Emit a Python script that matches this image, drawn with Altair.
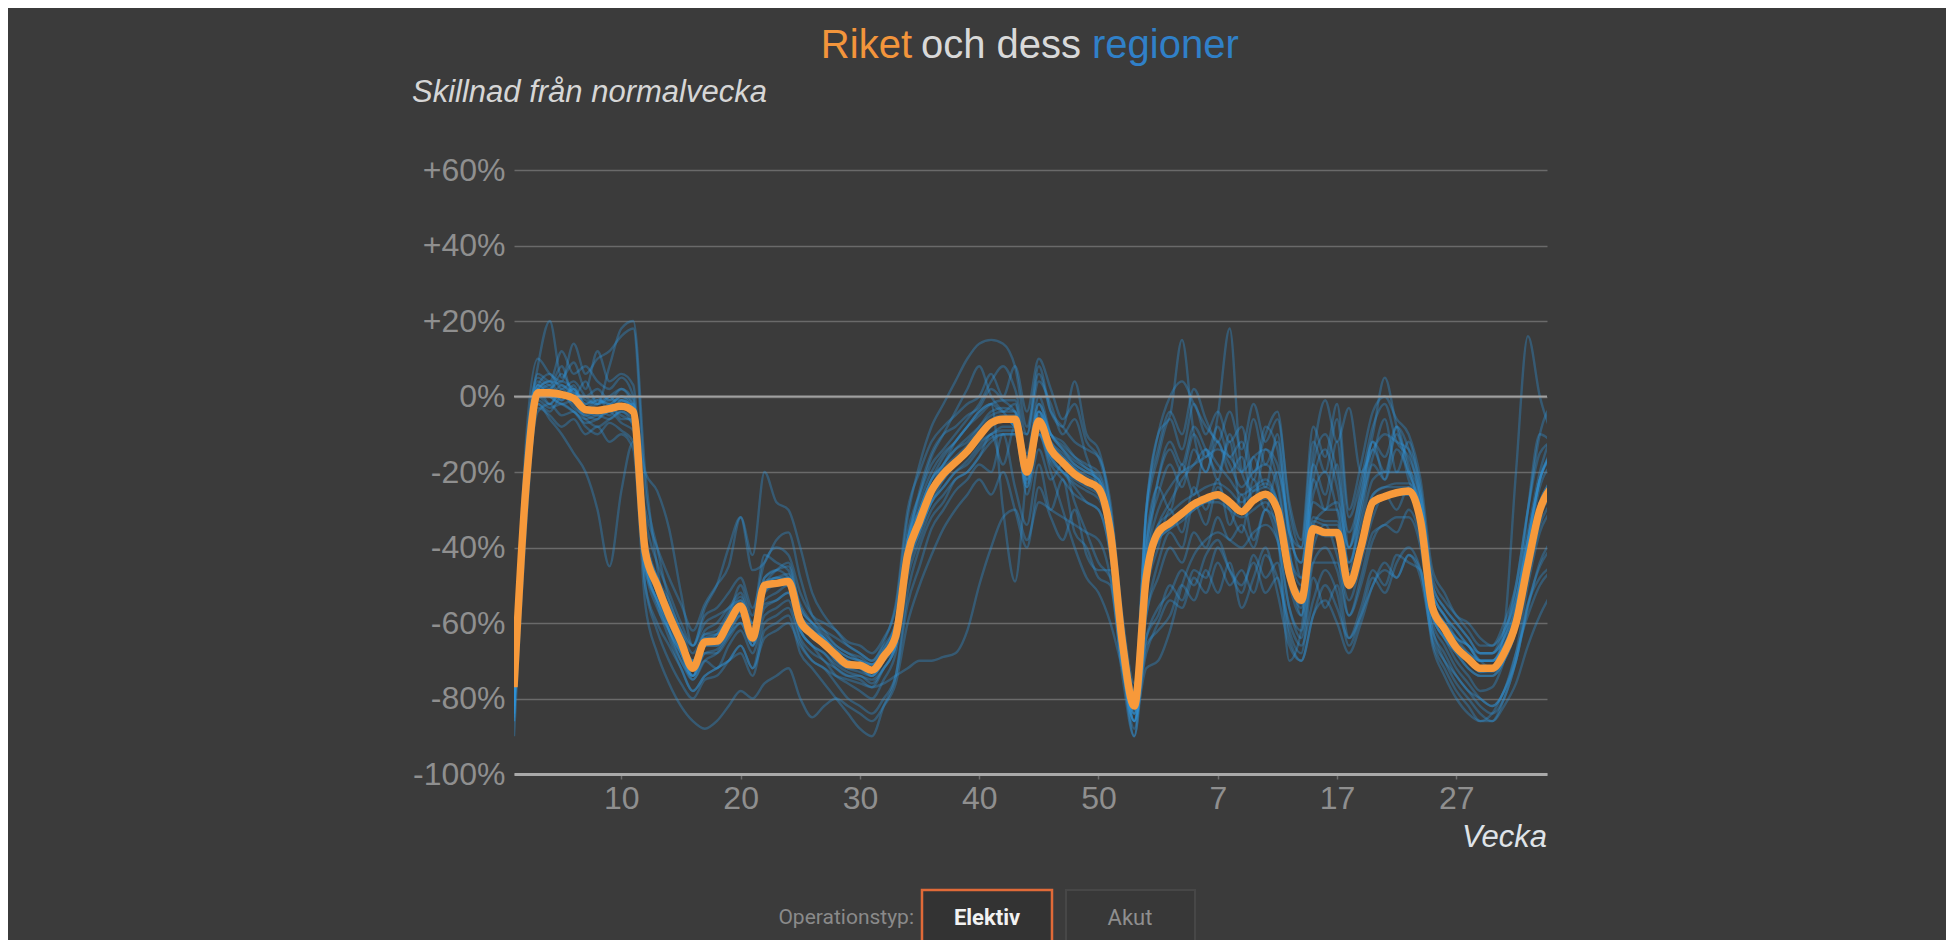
import altair as alt
import pandas as pd

# week index: 0 = 2020 v1 ... 52 = 2020 v53, 53 = 2021 v1 ...
week_idx = list(range(88))
tick_idx = [9, 19, 29, 39, 49, 59, 69, 79]
y_ticks = [-100, -80, -60, -40, -20, 0, 20, 40, 60]

riket = [-77, -24, 1, 1, 0.5, -0.5, -3.5, -3.7, -3.2, -2.6,
         -4, -41, -50, -58, -65, -72, -65, -64.8, -60, -55.5,
         -64, -50, -49.5, -49, -59.5, -63, -65.6, -68.5, -71, -71.2,
         -72.5, -68.8, -63.5, -42, -33, -25, -20.5, -17.5, -14.5, -10.5,
         -7, -6, -6, -20, -6.5, -14, -17.5, -20.6, -22.5, -24.3,
         -36, -65, -82, -48, -36, -33.5, -31, -28.5, -27, -26,
         -28, -30.5, -27.5, -25.9, -30, -47, -54, -35, -36, -36,
         -50, -40, -28, -26.5, -25.5, -25, -33, -56, -61.5, -66.5,
         -69.5, -72, -72, -68, -60, -44.4, -30, -24]

regions = {
    "G1": [-82, -15, 8, 20, 5, 9, 2, 12, 4, 6, 3, -38, -52, -60, -68, -75, -70, -68, -63, -58,
           -66, -52, -48, -50, -62, -66, -70, -72, -74, -75, -77, -72, -66, -40, -25, -15, -10, -8, -5, -3,
           2, -1, -4, -15, 0, -10, -14, -18, -20, -22, -34, -66, -86, -45, -22, -12, -18, -8, -14, -20,
           -12, -30, -16, -24, -10, -40, -58, -22, -30, -18, -46, -28, -12, -22, -8, -20, -30, -58, -64, -70,
           -74, -78, -77, -70, -58, -40, -22, -15],
    "G2": [-85, -20, 5, 3, 8, 0, 4, -2, 8, 18, 20, -20, -45, -62, -70, -74, -66, -63, -58, -50,
           -58, -42, -44, -46, -55, -60, -64, -68, -70, -72, -74, -70, -62, -38, -30, -22, -18, -12, -8, -4,
           -2, -4, -2, -18, -2, -10, -12, -16, -19, -22, -38, -70, -88, -58, -44, -36, -40, -28, -34, -24,
           -30, -36, -22, -30, -20, -34, -48, -18, -26, -12, -40, -30, -14, -20, -10, -22, -30, -52, -58, -62,
           -66, -70, -72, -68, -58, -30, -10, -12],
    "G3": [-90, -35, -2, -6, -10, -15, -20, -30, -45, -25, -12, -50, -62, -70, -76, -80, -75, -74, -70, -66,
           -72, -60, -58, -56, -65, -70, -72, -76, -80, -82, -84, -80, -74, -55, -45, -35, -30, -25, -22, -18,
           -20, -10, -24, -34, -18, -30, -22, -36, -40, -48, -50, -74, -90, -66, -62, -58, -50, -54, -46, -52,
           -44, -56, -48, -40, -52, -66, -70, -58, -50, -56, -64, -58, -48, -52, -44, -40, -46, -62, -70, -76,
           -80, -84, -86, -80, -70, -55, -45, -40],
    "G4": [-78, -22, 3, 0, -2, -4, -6, -5, -6, -4, -8, -30, -40, -48, -55, -62, -55, -50, -45, -32,
           -42, -20, -28, -30, -40, -52, -58, -62, -66, -68, -70, -65, -55, -30, -20, -12, -8, -5, -2, 0,
           6, 0, 8, -4, 10, 2, -6, -2, -12, -16, -30, -60, -78, -32, -16, -6, -14, -2, -10, -4,
           -12, -8, -20, -10, -4, -30, -40, -12, -20, -6, -32, -22, -8, -2, -12, -16, -26, -48, -54, -58,
           -62, -66, -66, -62, -52, -36, -20, -10],
    "G5": [-86, -28, -3, -5, -8, -6, -10, -8, -12, -10, -14, -55, -68, -76, -82, -86, -88, -86, -82, -78,
           -80, -76, -74, -72, -80, -85, -82, -80, -82, -84, -86, -82, -76, -60, -50, -42, -35, -30, -26, -22,
           -26, -20, -30, -40, -24, -32, -38, -30, -42, -46, -46, -70, -86, -64, -56, -52, -46, -50, -42, -38,
           -46, -52, -42, -48, -44, -62, -68, -48, -56, -50, -64, -56, -46, -50, -42, -44, -46, -65, -72, -78,
           -82, -86, -84, -78, -70, -55, -48, -45],
    "G6": [-80, -26, 0, 2, 4, 2, -2, 0, -4, -1, -5, -42, -55, -64, -72, -78, -74, -72, -70, -66,
           -72, -64, -62, -60, -66, -70, -72, -74, -75, -76, -77, -76, -74, -72, -70, -70, -69, -68, -62, -50,
           -40, -32, -30, -38, -28, -30, -32, -34, -36, -38, -48, -72, -84, -68, -60, -54, -56, -48, -52, -44,
           -50, -46, -52, -42, -48, -60, -66, -54, -46, -52, -66, -58, -50, -44, -48, -42, -48, -64, -70, -74,
           -78, -80, -82, -78, -68, -58, -50, -46],
    "G7": [-76, -18, 6, 4, 12, 6, 8, 4, 2, 5, 0, -32, -44, -52, -60, -66, -58, -56, -52, -48,
           -56, -44, -40, -42, -52, -58, -60, -62, -65, -66, -68, -64, -56, -32, -18, -8, -2, 4, 10, 14,
           15, 14, 8, -8, 6, -4, -8, -12, -14, -16, -28, -58, -76, -30, -14, -4, -10, 2, -6, -12,
           -4, -14, -2, -12, -6, -28, -38, -8, -16, -2, -30, -18, -4, 0, -6, -10, -22, -46, -52, -58,
           -60, -64, -66, -60, -50, -30, -15, -12],
    "G8": [-82, -24, 2, -2, 1, -3, -5, -6, -2, -6, -6, -44, -54, -60, -67, -74, -66, -66, -62, -58,
           -64, -54, -52, -50, -60, -64, -66, -70, -72, -73, -74, -70, -66, -44, -35, -28, -22, -18, -15, -12,
           -10, -8, -8, -22, -8, -16, -20, -22, -24, -26, -38, -66, -82, -30, -10, -5, 15, -10, -20, -5,
           18, -20, -25, -24, -28, -48, -56, -34, -36, -36, -50, -40, -28, -26, -26, -26, -34, -58, -64, -68,
           -72, -74, -74, -70, -62, -46, -30, -26],
    "G9": [-84, -22, 1, 3, -1, 2, -4, -3, -5, -1, -3, -40, -52, -58, -66, -72, -66, -66, -61, -57,
           -65, -52, -50, -50, -60, -64, -66, -70, -72, -72, -74, -70, -64, -42, -34, -26, -22, -18, -15, -11,
           -8, -6, -8, -22, -8, -14, -18, -21, -23, -25, -37, -66, -83, -52, -40, -30, -36, -24, -30, -22,
           -34, -26, -38, -30, -34, -50, -58, -40, -34, -42, -54, -44, -32, -26, -30, -24, -34, -57, -62, -67,
           -70, -73, -72, -62, -20, 16, 0, -10],
    "G10": [-83, -30, -4, -2, -5, -4, -8, -10, -7, -9, -12, -45, -56, -62, -70, -75, -70, -72, -66, -62,
            -68, -58, -56, -54, -64, -68, -70, -74, -76, -78, -80, -75, -68, -48, -38, -30, -26, -22, -20, -16,
            -10, -18, -8, -26, -14, -22, -18, -28, -36, -44, -48, -72, -86, -64, -58, -50, -54, -46, -48, -40,
            -46, -50, -44, -52, -48, -64, -70, -58, -54, -60, -68, -60, -50, -46, -48, -42, -46, -66, -74, -80,
            -84, -86, -86, -82, -76, -66, -58, -52],
    "G11": [-79, -20, 4, 2, 6, 1, 0, 2, -1, 2, -1, -36, -48, -56, -64, -70, -63, -62, -57, -53,
            -61, -48, -46, -45, -56, -60, -63, -66, -68, -69, -71, -67, -60, -38, -28, -20, -15, -12, -8, -5,
            -2, -1, -1, -16, -2, -10, -13, -16, -18, -20, -32, -62, -80, -44, -30, -24, -20, -18, -16, -14,
            -16, -20, -16, -14, -18, -36, -40, -15, -1, -12, -3, -20, -14, -10, -12, -14, -24, -50, -56, -60,
            -64, -68, -68, -64, -54, -38, -22, -16],
    "G12": [-81, -26, -1, -3, -2, -4, -7, -6, -4, -7, -9, -46, -54, -62, -68, -74, -68, -67, -63, -60,
            -66, -55, -54, -52, -62, -66, -68, -71, -73, -74, -75, -72, -66, -45, -36, -28, -24, -20, -17, -13,
            -10, -9, -9, -23, -9, -17, -20, -23, -25, -27, -39, -68, -84, -50, -38, -35, -33, -30, -28, -28,
            -30, -32, -30, -28, -36, -70, -62, -34, -30, -28, -40, -24, -10, 5, -8, -18, -32, -58, -64, -68,
            -72, -74, -74, -70, -62, -48, -34, -28],
    "G13": [-78, -12, 10, 6, 4, 14, 6, 10, 12, 16, 18, -24, -40, -54, -62, -68, -62, -60, -56, -54,
            -60, -50, -46, -44, -56, -60, -62, -64, -66, -68, -70, -66, -60, -36, -26, -18, -14, -10, -6, -2,
            4, 8, 2, -10, 4, -2, -10, -6, -16, -24, -32, -62, -80, -40, -22, -14, -20, -10, -16, -8,
            -16, -12, -22, -8, -14, -36, -44, -18, -10, -20, -36, -26, -12, -16, -8, -14, -28, -52, -58, -64,
            -66, -70, -70, -66, -56, -40, -24, -18],
    "G14": [-86, -28, -2, -4, 0, -2, -6, -8, -6, -4, -6, -50, -60, -66, -72, -78, -74, -72, -70, -68,
            -74, -62, -60, -58, -68, -72, -76, -80, -84, -88, -90, -82, -74, -52, -40, -32, -28, -22, -20, -16,
            -12, -10, -10, -24, -10, -16, -20, -24, -28, -30, -42, -70, -90, -58, -48, -40, -44, -36, -40, -32,
            -38, -34, -40, -30, -38, -56, -64, -44, -40, -46, -58, -50, -38, -34, -36, -30, -38, -60, -66, -72,
            -76, -80, -82, -78, -68, -50, -36, -30],
    "G15": [-80, -22, 2, 0, 3, 0, -3, -2, 0, -3, -2, -38, -48, -54, -62, -66, -56, -50, -40, -32,
            -46, -44, -38, -36, -48, -58, -62, -66, -68, -70, -72, -68, -62, -40, -30, -22, -18, -14, -11, -8,
            -5, -4, -4, -18, -4, -12, -15, -18, -20, -22, -34, -64, -82, -46, -34, -31, -28, -26, -24, -23,
            -25, -28, -25, -23, -28, -45, -52, -32, -33, -33, -47, -38, -26, -24, -23, -23, -30, -54, -60, -64,
            -68, -70, -70, -66, -58, -42, -28, -22],
    "G16": [-79, -24, 3, 6, 2, 4, 0, -2, 0, 2, -3, -42, -50, -58, -65, -72, -64, -64, -60, -56,
            -62, -50, -48, -48, -58, -62, -65, -68, -70, -71, -72, -68, -62, -40, -32, -24, -18, -14, -12, -8,
            -4, -3, -4, -19, -4, -12, -16, -19, -21, -23, -35, -64, -80, -30, -10, 0, 4, -2, -8, -12,
            -18, -24, -20, -18, -24, -42, -48, -28, -30, -30, -44, -34, -22, -20, -20, -20, -28, -52, -58, -62,
            -66, -68, -68, -64, -56, -38, -22, -15],
    "G17": [-80, -18, 3, 1, -1, 3, -3, -1, -2, 0, -2, -20, -25, -35, -52, -66, -60, -58, -56, -52,
            -60, -48, -46, -48, -58, -62, -64, -68, -70, -71, -72, -68, -62, -41, -32, -24, -19, -16, -13, -9,
            -6, -5, -5, -19, -5, -13, -16, -19, -22, -24, -36, -64, -80, -46, -34, -28, -22, -18, -14, -18,
            -22, -26, -24, -22, -28, -46, -52, -33, -34, -34, -48, -38, -26, -24, -24, -24, -32, -55, -60, -65,
            -68, -70, -70, -66, -58, -42, -28, -22],
    "G18": [-84, -26, 0, -2, 2, -1, -5, -4, -3, -5, -7, -44, -54, -62, -68, -74, -68, -68, -64, -60,
            -66, -56, -54, -52, -62, -66, -68, -72, -74, -74, -76, -72, -66, -46, -36, -28, -24, -20, -18, -14,
            -11, -10, -10, -24, -10, -18, -22, -26, -28, -30, -42, -70, -86, -72, -70, -62, -50, -42, -38, -36,
            -38, -40, -36, -34, -38, -56, -62, -44, -44, -44, -58, -48, -36, -34, -32, -32, -40, -62, -68, -74,
            -78, -82, -84, -80, -70, -56, -44, -38],
    "G19": [-81, -22, 2, 4, 0, 2, -2, -1, -2, 0, -4, -40, -50, -57, -64, -70, -63, -63, -58, -54,
            -62, -49, -48, -47, -58, -61, -64, -67, -69, -70, -71, -68, -62, -40, -30, -22, -16, -12, -8, -4,
            -2, -30, -49, -20, -4, -10, -14, -17, -19, -21, -33, -62, -80, -40, -26, -18, -24, -14, -20, -12,
            -20, -16, -28, -14, -22, -42, -50, -26, -20, -30, -44, -32, -18, -22, -14, -20, -30, -54, -60, -64,
            -66, -70, -70, -64, -50, -30, -10, -2],
    "G20": [-82, -24, 1, 0, -2, -1, -4, -5, -4, -3, -5, -42, -52, -59, -66, -72, -66, -65, -61, -57,
            -64, -51, -50, -49, -60, -63, -66, -69, -71, -72, -73, -69, -64, -43, -33, -25, -20, -17, -14, -10,
            -7, -6, -8, -20, -10, -20, -30, -40, -48, -52, -60, -72, -84, -50, -38, -35, -32, -30, -28, -27,
            -29, -31, -28, -27, -31, -48, -55, -36, -37, -37, -51, -41, -29, -27, -26, -26, -34, -57, -62, -67,
            -70, -73, -73, -69, -61, -46, -32, -26],
    "G21": [-77, -20, 2, 4, 3, 1, -1, -2, -1, -1, -3, -38, -48, -56, -64, -70, -64, -63, -59, -55,
            -62, -50, -49, -48, -58, -62, -64, -67, -69, -70, -71, -67, -60, -38, -26, -16, -10, -4, 2, 8,
            0, -4, -8, -10, 8, -4, -8, 4, -10, -14, -30, -60, -78, -38, -24, -30, -18, -26, -14, -22,
            -10, -20, -6, -18, -12, -36, -44, -22, -14, -24, -40, -28, -16, -6, -20, -12, -26, -50, -56, -60,
            -64, -68, -68, -62, -54, -38, -22, -14],
}

for k, v in regions.items():
    assert len(v) == len(week_idx), (k, len(v))
assert len(riket) == len(week_idx)

reg_rows = []
for name, vals in regions.items():
    for i, v in zip(week_idx, vals):
        reg_rows.append({"idx": i, "value": v, "region": name})
reg_df = pd.DataFrame(reg_rows)
rik_df = pd.DataFrame({"idx": week_idx, "value": riket})
zero_df = pd.DataFrame({"value": [0]})

FONT = "Liberation Sans, Arial, sans-serif"
LABEL = "#8f8f8f"

xscale = alt.Scale(domain=[0, 86.6], nice=False, zero=False)
yscale = alt.Scale(domain=[-100, 60], nice=False, zero=False)

x_enc = alt.X("idx:Q", scale=xscale, title=None,
              axis=alt.Axis(values=tick_idx,
                            labelExpr="datum.value < 53 ? datum.value + 1 : datum.value - 52",
                            grid=False, domainColor="#a9a9a9", domainWidth=3,
                            tickColor="#6f6f6f", tickSize=5, tickWidth=1.5,
                            labelFontSize=32, labelColor=LABEL, labelFont=FONT,
                            labelPadding=4, title=None))
y_enc = alt.Y("value:Q", scale=yscale, title=None,
              axis=alt.Axis(values=y_ticks,
                            labelExpr="datum.value > 0 ? '+' + datum.value + '%' : datum.value + '%'",
                            grid=True, gridColor="#6a6a6a", gridWidth=1.5,
                            domain=False, ticks=False,
                            labelFontSize=32, labelColor=LABEL, labelFont=FONT,
                            labelPadding=9, title=None))

blue = alt.Chart(reg_df).mark_line(
    color="#2f93d8", strokeWidth=2.4, opacity=0.36, interpolate="monotone", clip=True
).encode(x=x_enc, y=y_enc, detail="region:N")

zero = alt.Chart(zero_df).mark_rule(color="#a0a0a0", strokeWidth=2).encode(
    y=alt.Y("value:Q", scale=yscale, title=None))

orange = alt.Chart(rik_df).mark_line(
    color="#f7993a", strokeWidth=7.5, interpolate="monotone", clip=True
).encode(x=alt.X("idx:Q", scale=xscale, title=None),
         y=alt.Y("value:Q", scale=yscale, title=None))


def txt(s, x, y, size, color, align="left", style="normal", weight="normal", font=FONT, baseline="alphabetic"):
    return alt.Chart(pd.DataFrame({"t": [s]})).mark_text(
        align=align, baseline=baseline, fontSize=size, color=color, font=font,
        fontStyle=style, fontWeight=weight
    ).encode(x=alt.value(x), y=alt.value(y), text="t:N")


title_parts = [
    txt("Riket", 398, -112, 40, "#f3953b", align="right"),
    txt("och dess", 407, -112, 40, "#d9d9d9", align="left"),
    txt("regioner", 578, -112, 40, "#3080c8", align="left"),
]
subtitle = txt("Skillnad från normalvecka", -102, -68, 31, "#d6d6d6", style="italic")
xtitle = txt("Vecka", 1033, 677, 31, "#dfe3e8", align="right", style="italic")

NARROW = "Liberation Sans Narrow, Roboto, sans-serif"
btn_elektiv = alt.Chart(pd.DataFrame({"a": [0]})).mark_rect(
    fill="#333333", stroke="#e06a38", strokeWidth=2.5
).encode(x=alt.value(408), x2=alt.value(538), y=alt.value(720), y2=alt.value(777))
btn_akut = alt.Chart(pd.DataFrame({"a": [0]})).mark_rect(
    fill="#383838", stroke="#474747", strokeWidth=2
).encode(x=alt.value(552), x2=alt.value(681), y=alt.value(720), y2=alt.value(777))
btn_texts = [
    txt("Operationstyp:", 400, 748, 21, "#8a8a8a", align="right", font=NARROW, baseline="middle"),
    txt("Elektiv", 473, 748, 22, "#f2f2f2", align="center", weight="bold", font=NARROW, baseline="middle"),
    txt("Akut", 616, 748, 22, "#8f8f8f", align="center", font=NARROW, baseline="middle"),
]

chart = alt.layer(
    blue, zero, orange, *title_parts, subtitle, xtitle, btn_elektiv, btn_akut, *btn_texts
).properties(
    width=1033, height=604,
    padding={"left": 506, "top": 162, "right": 399, "bottom": 166},
    autosize=alt.AutoSizeParams(type="none"),
    background="#3b3b3b",
).configure_view(stroke=None)

chart.save("out.html", embed_options={"renderer": "svg", "actions": False})
